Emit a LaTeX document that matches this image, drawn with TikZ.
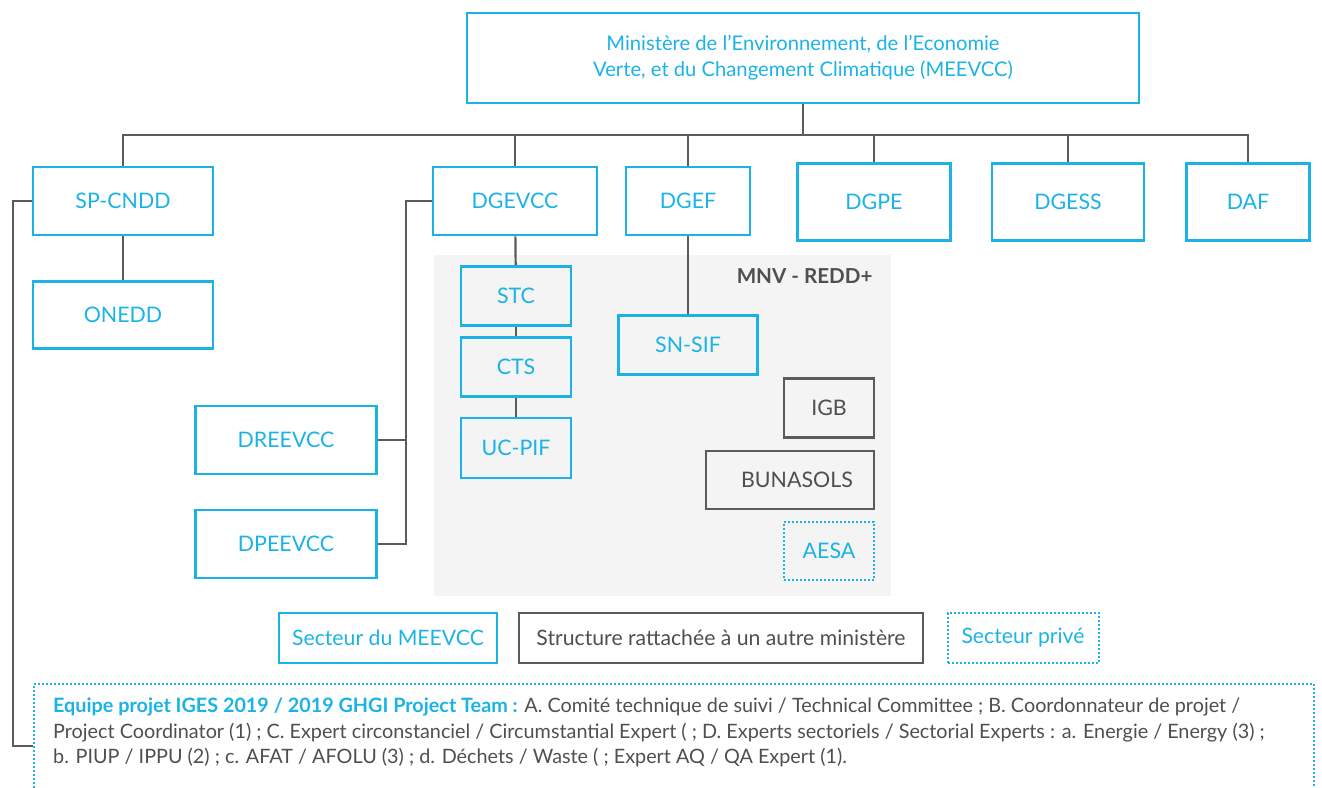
\documentclass[tikz,border=0pt]{standalone}
\usepackage{fontspec}
\setmainfont{Lato}
\usetikzlibrary{calc, positioning}
\definecolor{meeblue}{HTML}{1BB3E6}
\definecolor{lnk}{HTML}{5B5B5B}
\definecolor{txtgray}{HTML}{4F4F4F}
\definecolor{zone}{HTML}{F4F4F4}

\begin{document}
\begin{tikzpicture}[x=1pt, y=-1pt,
    meebox/.style={draw=meeblue, line width=2.6pt, text=meeblue, inner sep=0pt, font=\fontsize{21.4}{24}\selectfont},
    autrebox/.style={draw=lnk, line width=2.6pt, text=txtgray, inner sep=0pt, font=\fontsize{21.4}{24}\selectfont},
    privbox/.style={draw=meeblue, line width=2pt, dash pattern=on 2pt off 2pt, text=meeblue, inner sep=0pt, font=\fontsize{21.4}{24}\selectfont},
    link/.style={draw=lnk, line width=2.2pt}]
\useasboundingbox (0,0) rectangle (1322,787);

% zone MNV - REDD+
\fill[zone] (434,255) rectangle (891,596);
\node[anchor=east, text=txtgray, font=\bfseries\fontsize{20.6}{22}\selectfont] (mnv) at (876,276) {MNV - REDD+};

% ministere
\node[meebox, minimum width=672, minimum height=90, align=center, font=\fontsize{20.2}{26}\selectfont] (meevcc) at (803,58)
    {Ministère de l’Environnement, de l’Economie\\Verte, et du Changement Climatique (MEEVCC)};

% directions
\node[meebox, minimum width=180, minimum height=68] (spcndd) at (123,201) {SP-CNDD};
\node[meebox, minimum width=180, minimum height=67] (onedd) at (123,315) {\raisebox{-2pt}{ONEDD}};
\node[meebox, minimum width=164, minimum height=68] (dgevcc) at (515,201) {DGEVCC};
\node[meebox, minimum width=124, minimum height=68] (dgef) at (688,201) {DGEF};
\node[meebox, minimum width=153, minimum height=77] (dgpe) at (874,202) {DGPE};
\node[meebox, minimum width=152, minimum height=77] (dgess) at (1068,202) {DGESS};
\node[meebox, minimum width=123, minimum height=77] (daf) at (1248,202) {DAF};
\node[meebox, minimum width=181, minimum height=68] (dreevcc) at (286,440) {DREEVCC};
\node[meebox, minimum width=181, minimum height=68] (dpeevcc) at (286,544) {DPEEVCC};

% structures MNV
\node[meebox, minimum width=110, minimum height=59] (stc) at (516,296) {STC};
\node[meebox, minimum width=110, minimum height=59] (cts) at (516,367) {CTS};
\node[meebox, minimum width=110, minimum height=60] (ucpif) at (516,448) {UC-PIF};
\node[meebox, minimum width=139, minimum height=59] (snsif) at (688,345) {SN-SIF};
\node[autrebox, minimum width=90, minimum height=59] (igb) at (829,408) {IGB};
\node[autrebox, minimum width=168, minimum height=58] (bunasols) at (790,480) {\hspace*{14pt}BUNASOLS};
\node[privbox, minimum width=90, minimum height=58] (aesa) at (829,551) {AESA};

% legende
\node[meebox, minimum width=218, minimum height=50, font=\fontsize{21.2}{22}\selectfont] (legmee) at (388,638) {Secteur du MEEVCC};
\node[autrebox, minimum width=404, minimum height=50, font=\fontsize{21.2}{22}\selectfont] (legautre) at (721,638) {Structure rattachée à un autre ministère};
\node[privbox, minimum width=151, minimum height=50, font=\fontsize{21.2}{22}\selectfont] (legpriv) at (1023,638) {Secteur privé};

% equipe projet
\node[privbox, minimum width=1280, minimum height=130, anchor=north west] (team) at (33,683) {};
\node[anchor=north west, align=left, text=txtgray, inner sep=0pt, font=\fontsize{19.8}{25.5}\selectfont] (teamtxt) at (53,698)
    {{\bfseries\color{meeblue}Equipe projet IGES 2019 / 2019 GHGI Project Team :} A. Comité technique de suivi / Technical Committee ; B. Coordonnateur de projet /\\
     Project Coordinator (1) ; C. Expert circonstanciel / Circumstantial Expert ( ; D. Experts sectoriels / Sectorial Experts : a. Energie / Energy (3) ;\\
     b. PIUP / IPPU (2) ; c. AFAT / AFOLU (3) ; d. Déchets / Waste ( ; Expert AQ / QA Expert (1).};

% liaisons
\coordinate (bus) at (803,135);
\coordinate (brk) at (406,201);
\coordinate (lft) at (13,746);
\draw[link] (meevcc.south) -- (bus);
\draw[link] (spcndd.north) |- (bus) -| (daf.north);
\foreach \d in {dgevcc, dgef, dgpe, dgess}
    \draw[link] (\d.north) -- (\d.north |- bus);
\draw[link] (spcndd) to (onedd);
\draw[link] (dgevcc.west) -- (brk) |- (dpeevcc.east);
\draw[link] (dreevcc.east) -- (dreevcc.east -| brk);
\draw[link] (dgevcc) to (stc);
\draw[link] (stc) to (cts);
\draw[link] (cts) to (ucpif);
\draw[link] (dgef) to (snsif);
\draw[link] (spcndd.west) -| (lft) -- (lft -| team.west);
\end{tikzpicture}
\end{document}
